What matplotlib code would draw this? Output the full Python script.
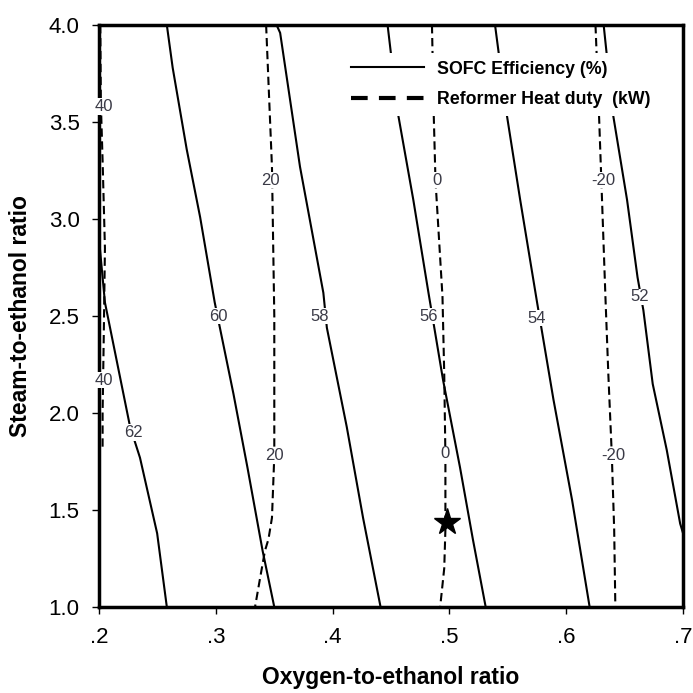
import matplotlib.pyplot as plt
from matplotlib.lines import Line2D

plt.rcParams['font.family'] = ['Liberation Sans', 'DejaVu Sans']

# SOFC efficiency contours (%): (x, y)
eff_levels = [62, 60, 58, 56, 54, 52]
eff_x = [
    [0.2005, 0.205, 0.2265, 0.235, 0.2497, 0.258],
    [0.258, 0.263, 0.275, 0.2865, 0.299, 0.315, 0.327, 0.340, 0.350],
    [0.352, 0.355, 0.372, 0.392, 0.395, 0.412, 0.426, 0.441],
    [0.447, 0.456, 0.469, 0.482, 0.4945, 0.509, 0.520, 0.531],
    [0.539, 0.549, 0.5605, 0.575, 0.589, 0.605, 0.620],
    [0.632, 0.640, 0.652, 0.661, 0.666, 0.674, 0.686, 0.6975, 0.700],
]
eff_y = [
    [2.86, 2.57, 1.93, 1.77, 1.38, 1.0],
    [4.0, 3.78, 3.36, 3.01, 2.57, 2.10, 1.72, 1.29, 1.0],
    [4.0, 3.96, 3.27, 2.62, 2.44, 1.93, 1.46, 1.0],
    [4.0, 3.54, 3.10, 2.62, 2.17, 1.72, 1.35, 1.0],
    [4.0, 3.54, 3.10, 2.57, 2.07, 1.55, 1.0],
    [4.0, 3.54, 3.10, 2.70, 2.53, 2.15, 1.81, 1.43, 1.38],
]
eff_lab_x = [0.229, 0.302, 0.389, 0.482, 0.575, 0.663]
eff_lab_y = [1.90, 2.50, 2.50, 2.50, 2.49, 2.60]

# Reformer heat duty contours (kW)
duty_levels = [40, 20, 0, -20]
duty_x = [
    [0.201, 0.2015, 0.203, 0.205, 0.204, 0.203, 0.203],
    [0.343, 0.348, 0.350, 0.350, 0.348, 0.345, 0.342, 0.338, 0.3335],
    [0.485, 0.4865, 0.488, 0.494, 0.4955, 0.4965, 0.4965, 0.4955, 0.492],
    [0.625, 0.628, 0.630, 0.6335, 0.636, 0.639, 0.641, 0.642],
]
duty_y = [
    [4.0, 3.6, 3.3, 2.85, 2.4, 2.0, 1.82],
    [4.0, 3.27, 2.5, 1.78, 1.46, 1.35, 1.29, 1.155, 1.0],
    [4.0, 3.54, 3.2, 2.6, 2.2, 1.78, 1.4, 1.2, 1.0],
    [4.0, 3.54, 3.2, 2.6, 2.2, 1.78, 1.4, 1.0],
]
duty_lab_x = [[0.2045, 0.2045], [0.3464, 0.350], [0.489, 0.496], [0.6315, 0.640]]
duty_lab_y = [[3.58, 2.17], [3.20, 1.78], [3.20, 1.79], [3.20, 1.78]]

# operating point
star_x = [0.498]
star_y = [1.44]

fig = plt.figure(figsize=(6.93, 6.93), dpi=100)
ax = fig.add_axes([0.143, 0.124, 0.8427, 0.8398])

lab_style = dict(fontsize=12, color='#3a3a46', ha='center', va='center', zorder=5,
                 clip_on=False, bbox=dict(fc='white', ec='none', pad=0.5))

for lev, xs, ys, lx, ly in zip(eff_levels, eff_x, eff_y, eff_lab_x, eff_lab_y):
    ax.plot(xs, ys, color='black', lw=1.5, zorder=2)
    ax.text(lx, ly, str(lev), **lab_style)

for lev, xs, ys, lxs, lys in zip(duty_levels, duty_x, duty_y, duty_lab_x, duty_lab_y):
    ax.plot(xs, ys, color='black', lw=1.5, ls=(0, (4, 2.2)), zorder=2)
    for lx, ly in zip(lxs, lys):
        ax.text(lx, ly, str(lev), **lab_style)

ax.plot(star_x, star_y, marker='*', color='black', ms=20, ls='none', zorder=6)

ax.set_xlim(0.2, 0.7)
ax.set_ylim(1.0, 4.0)
ax.set_xticks([0.2, 0.3, 0.4, 0.5, 0.6, 0.7])
ax.set_xticklabels(['.2', '.3', '.4', '.5', '.6', '.7'])
ax.set_yticks([1.0, 1.5, 2.0, 2.5, 3.0, 3.5, 4.0])
ax.set_yticklabels(['1.0', '1.5', '2.0', '2.5', '3.0', '3.5', '4.0'])
ax.tick_params(direction='out', length=5, width=1, labelsize=16, pad=9)

for s in ax.spines.values():
    s.set_linewidth(2.5)

ax.set_xlabel('Oxygen-to-ethanol ratio', fontsize=16.5, fontweight='bold', labelpad=13)
ax.set_ylabel('Steam-to-ethanol ratio', fontsize=16.5, fontweight='bold', labelpad=12)

handles = [Line2D([], [], color='black', lw=1.5),
           Line2D([], [], color='black', lw=3, ls=(0, (4, 2.7)))]
leg = ax.legend(handles, ['SOFC Efficiency (%)', 'Reformer Heat duty  (kW)'],
                loc='upper left', bbox_to_anchor=(0.402, 0.968), frameon=True,
                fancybox=False, framealpha=1, edgecolor='none', facecolor='white',
                prop=dict(size=12.8, weight='bold'), handlelength=4.1,
                handletextpad=0.75, labelspacing=0.75, borderpad=0.45)
leg.set_zorder(7)

fig.savefig('out.png', dpi=100)
